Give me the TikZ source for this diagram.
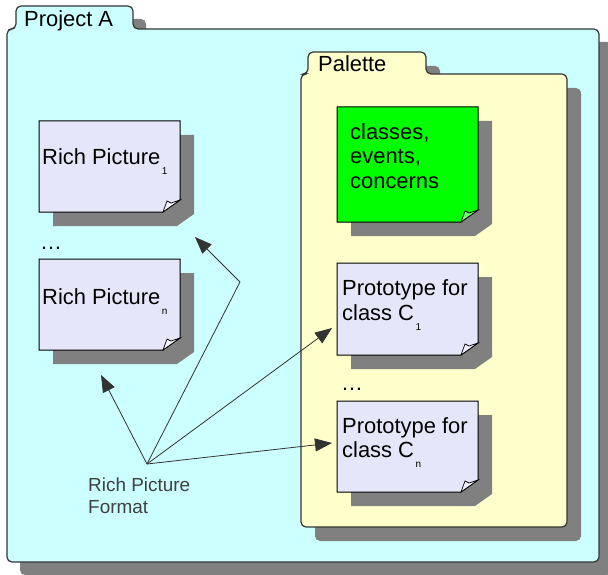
\documentclass[tikz,border=0pt]{standalone}
\usepackage{fontspec}
\setmainfont{Liberation Sans}
\usetikzlibrary{arrows.meta}
\definecolor{cyanbg}{HTML}{CCFFFF}
\definecolor{palbg}{HTML}{FFFFCC}
\definecolor{notebg}{HTML}{E6E6FA}
\definecolor{greenbg}{HTML}{00FF00}
\definecolor{shadowc}{HTML}{808080}
\definecolor{linec}{HTML}{333333}
\definecolor{labelc}{HTML}{404040}
% folder: x1 tx1 tx2 ty tb x2 y2 fill offset
\newcommand\folderbox[9]{%
  \fill[shadowc, shift={(#9,#9)}, rounded corners=5]
    (#1,{#5+40}) -- (#1,#5) -- (#2,#5) -- (#2,#4) -- (#3,#4) -- (#3,#5)
    -- (#6,#5) -- (#6,#7) -- (#1,#7) -- cycle;
  \filldraw[fill=#8, draw=linec, line width=1.2bp, rounded corners=5]
    (#1,{#5+40}) -- (#1,#5) -- (#2,#5) -- (#2,#4) -- (#3,#4) -- (#3,#5)
    -- (#6,#5) -- (#6,#7) -- (#1,#7) -- cycle;
}
% note: x1 y1 x2 y2 fill
\newcommand\notebox[5]{%
  \fill[shadowc, shift={(14,14)}]
    (#1,#2) -- (#3,#2) -- (#3,{#4-12}) -- ({#3-17},#4) -- (#1,#4) -- cycle;
  \filldraw[fill=#5, draw=black, line width=1bp]
    (#1,#2) -- (#3,#2) -- (#3,{#4-12}) -- ({#3-17},#4) -- (#1,#4) -- cycle;
  \filldraw[fill=#5!55!white, draw=black, line width=0.7bp]
    ({#3-17},#4) -- (#3,{#4-12}) -- ({#3-9},{#4-9}) -- ({#3-13},{#4-11}) -- cycle;
}
\newcommand\subs[1]{\hspace{1.5bp}\raisebox{-10bp}{\fontsize{10}{10}\selectfont #1}}
\tikzset{
  txt/.style={inner sep=0pt, anchor=base west, font=\fontsize{22}{24}\selectfont},
  lbl/.style={inner sep=0pt, anchor=base west, text=labelc, font=\fontsize{19}{22}\selectfont},
  conn/.style={draw=linec, line width=0.8bp, -{Triangle[length=17bp,width=13bp]}}
}
\begin{document}
\begin{tikzpicture}[x=1bp, y=-1bp]
\useasboundingbox (0,0) rectangle (608,575);
\fill[white] (0,0) rectangle (608,575);
% outer project folder
\folderbox{7}{16}{133}{6}{29}{599}{562}{cyanbg}{13}
% palette folder
\folderbox{301}{308}{426}{52}{74}{567}{527}{palbg}{14}
% notes
\notebox{39}{121}{180}{212}{notebg}
\notebox{39}{259}{180}{350}{notebg}
\notebox{337}{107}{478}{222}{greenbg}
\notebox{337}{263}{478}{355}{notebg}
\notebox{337}{401}{478}{492}{notebg}
% texts
\node[txt] (proj) at (24,27) {Project A};
\node[txt] (pal) at (318,72) {Palette};
\node[txt] (cls1) at (350,140) {classes,};
\node[txt] (cls2) at (350,164) {events,};
\node[txt] (cls3) at (350,188) {concerns};
\node[txt] (rp1) at (42,165) {Rich Picture\subs{1}};
\node[txt] (dotsl) at (40,249) {\ldots};
\node[txt] (rpn) at (42,304) {Rich Picture\subs{n}};
\node[txt] (pc1a) at (342,295) {Prototype for};
\node[txt] (pc1b) at (342,320) {class C\subs{1}};
\node[txt] (dotsr) at (341,390) {\ldots};
\node[txt] (pcna) at (342,433) {Prototype for};
\node[txt] (pcnb) at (342,457) {class C\subs{n}};
\node[lbl] (fmt1) at (88,491) {Rich Picture};
\node[lbl] (fmt2) at (88,513) {Format};
% connectors
\coordinate (src) at (147,464);
\coordinate (tipRn) at (101,375);
\coordinate (bend) at (240,282);
\coordinate (tipR1) at (195,237);
\coordinate (tipC1) at (332,328);
\coordinate (tipCn) at (332,443);
\draw[conn] (src) -- (tipRn);
\draw[conn] (src) -- (bend) -- (tipR1);
\draw[conn] (src) -- (tipC1);
\draw[conn] (src) -- (tipCn);
\end{tikzpicture}
\end{document}
